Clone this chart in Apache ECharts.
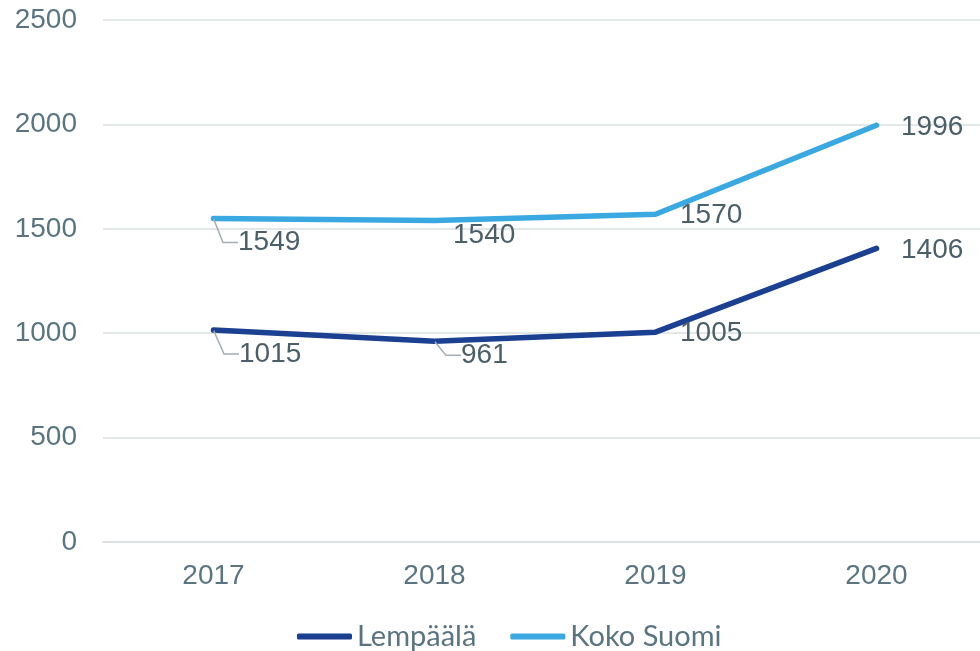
<!DOCTYPE html>
<html>
<head>
<meta charset="utf-8">
<script src="https://cdn.jsdelivr.net/npm/echarts@6/dist/echarts.min.js"></script>
<style>html,body{margin:0;padding:0;background:#fff;}#c{width:980px;height:651px;}</style>
</head>
<body>
<div id="c"></div>
<script>
var categories = ['2017', '2018', '2019', '2020'];
var seriesNames = ['Lempäälä', 'Koko Suomi'];
var lempaala = [1015, 961, 1005, 1406];
var kokoSuomi = [1549, 1540, 1570, 1996];
var yTicks = [0, 500, 1000, 1500, 2000, 2500];

// label placement tweaks (style only)
var labelDy = [[24, 14, 1, 2], [24, 15, 1, 2]];
var labelDx = [[1, 2, 0, 0], [0, -6, 0, 0]];
var leader = [[true, true, false, false], [true, false, false, false]];

var colors = ['#1b3f91', '#3aa9e1'];
var axisColor = '#5b7580';
var labelColor = '#4b5f69';

function buildData(values, si) {
  return values.map(function (v, i) {
    return {
      value: v,
      labelLine: { show: leader[si][i] }
    };
  });
}

function makeSeries(name, values, si) {
  return {
    name: name,
    type: 'line',
    data: buildData(values, si),
    symbol: 'circle',
    symbolSize: 1,
    showSymbol: true,
    lineStyle: { width: 5.5, color: colors[si], cap: 'round', join: 'round' },
    itemStyle: { color: colors[si] },
    label: {
      show: true,
      position: 'right',
      distance: 15,
      padding: [0, 0, 0, 9],
      fontFamily: 'Liberation Sans, Arial, sans-serif',
      fontSize: 28,
      color: labelColor
    },
    labelLine: {
      show: false,
      length2: 15,
      smooth: false,
      lineStyle: { color: '#a3adb2', width: 1.5 }
    },
    labelLayout: function (p) {
      return { dx: labelDx[si][p.dataIndex], dy: labelDy[si][p.dataIndex] };
    },
    animation: false
  };
}

var chart = echarts.init(document.getElementById('c'), null, { renderer: 'canvas' });
chart.setOption({
  animation: false,
  backgroundColor: '#ffffff',
  color: colors,
  grid: { left: 103, width: 884, top: 20, bottom: 109, containLabel: false, outerBoundsMode: 'none' },
  xAxis: {
    type: 'category',
    data: categories,
    boundaryGap: true,
    axisLine: { show: true, lineStyle: { color: '#d9dfe1', width: 1.5 } },
    axisTick: { show: false },
    axisLabel: {
      margin: 20,
      fontFamily: 'Liberation Sans, Arial, sans-serif',
      fontSize: 28,
      color: axisColor
    }
  },
  yAxis: {
    type: 'value',
    min: yTicks[0],
    max: yTicks[yTicks.length - 1],
    interval: yTicks[1] - yTicks[0],
    axisLine: { show: false },
    axisTick: { show: false },
    splitLine: { lineStyle: { color: '#d9dfe1', width: 1.5 } },
    axisLabel: {
      margin: 26,
      fontFamily: 'Liberation Sans, Arial, sans-serif',
      fontSize: 28,
      color: axisColor,
      formatter: function (v) { return String(v); }
    }
  },
  legend: {
    left: 297,
    top: 622,
    padding: 0,
    itemWidth: 55,
    itemHeight: 6,
    itemGap: 34,
    icon: 'roundRect',
    textStyle: {
      fontFamily: 'Lato, "Open Sans", sans-serif',
      fontSize: 29,
      color: axisColor
    },
    data: seriesNames
  },
  series: [
    makeSeries(seriesNames[0], lempaala, 0),
    makeSeries(seriesNames[1], kokoSuomi, 1)
  ]
});
</script>
</body>
</html>
